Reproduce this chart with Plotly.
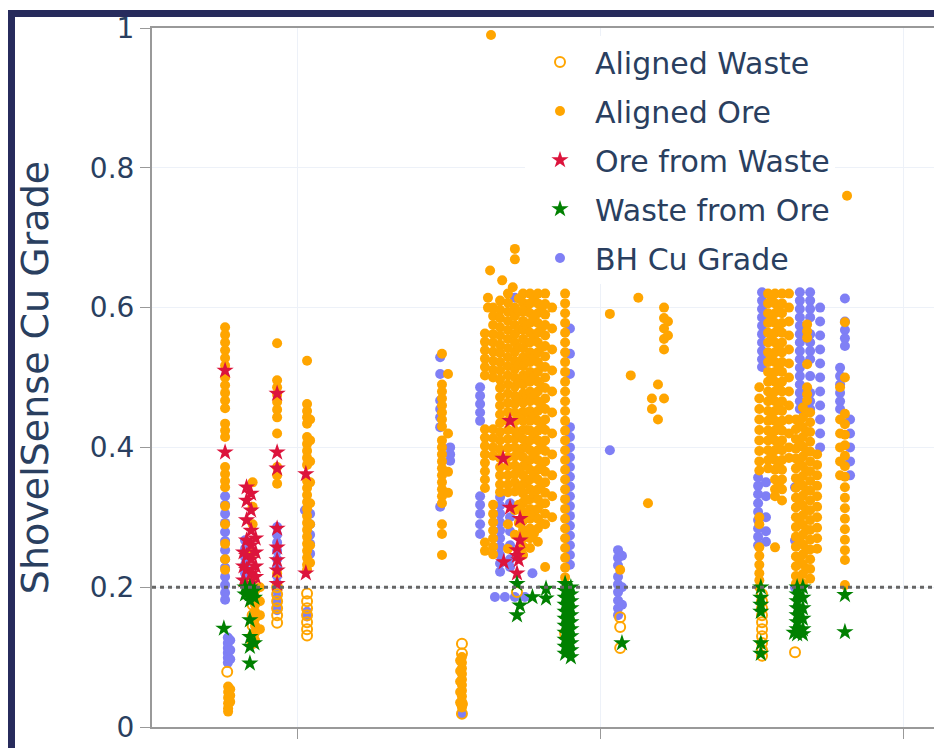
import plotly.graph_objects as go

# ---------------- data (x = sample position, y = Cu grade) ----------------
# each entry: (x position, [y values at that x])
BH_CU_GRADE = [
    (75.9, [0.33, 0.318, 0.305, 0.292, 0.279, 0.266, 0.253, 0.24, 0.228, 0.215, 0.203, 0.192, 0.182]),
    (76.8, [0.128, 0.12, 0.113, 0.106, 0.099, 0.092]),
    (77.6, [0.124, 0.11, 0.097]),
    (82.5, [0.267, 0.255, 0.243, 0.232, 0.22, 0.21]),
    (93.1, [0.286, 0.275, 0.264, 0.252, 0.24, 0.228, 0.216, 0.205, 0.195, 0.185, 0.176, 0.167]),
    (102.3, [0.31]),
    (104.0, [0.305, 0.29, 0.275, 0.262, 0.248]),
    (103.0, [0.165, 0.158]),
    (147.0, [0.529, 0.505, 0.467, 0.455, 0.443, 0.429, 0.315]),
    (150.3, [0.4, 0.39, 0.381]),
    (154.2, [0.019]),
    (160.2, [0.486, 0.474, 0.462, 0.45, 0.438, 0.33, 0.318, 0.305, 0.29, 0.276]),
    (166.8, [0.329, 0.317, 0.305, 0.293, 0.281, 0.27, 0.258, 0.246, 0.234, 0.222]),
    (170.1, [0.32, 0.3, 0.28, 0.26, 0.24, 0.229]),
    (165.1, [0.186]), (168.4, [0.186]), (171.7, [0.186, 0.614]), (175.0, [0.186]), (177.5, [0.22]),
    (189.9, [0.57, 0.534, 0.505, 0.429, 0.415, 0.4, 0.386, 0.372, 0.358, 0.344, 0.33, 0.316,
             0.302, 0.288, 0.274, 0.26, 0.246, 0.232]),
    (203.1, [0.396]),
    (205.8, [0.253, 0.242, 0.231, 0.215, 0.204, 0.193, 0.181, 0.17, 0.16]),
    (207.1, [0.245, 0.2, 0.175]),
    (253.4, [0.622, 0.61, 0.598, 0.586, 0.574, 0.562, 0.55, 0.538, 0.526, 0.515]),
    (252.1, [0.357, 0.345, 0.333, 0.32, 0.308, 0.296, 0.284, 0.272, 0.26]),
    (254.7, [0.35, 0.33, 0.3, 0.28, 0.265]),
    (265.9, [0.622, 0.61, 0.598, 0.586, 0.574, 0.562, 0.55, 0.538, 0.526, 0.514, 0.502, 0.49,
             0.478, 0.466, 0.455]),
    (269.3, [0.622, 0.61, 0.598, 0.586, 0.562, 0.55, 0.538, 0.526, 0.502, 0.478, 0.466, 0.455]),
    (272.6, [0.6, 0.58, 0.56, 0.54, 0.52, 0.5, 0.48, 0.46, 0.44, 0.42, 0.4]),
    (264.3, [0.343, 0.267, 0.2]),
    (280.8, [0.613, 0.58, 0.568, 0.556, 0.545]),
    (279.2, [0.514, 0.502, 0.49, 0.478, 0.466, 0.455]),
    (282.5, [0.44, 0.42, 0.4, 0.38, 0.36]),
]

ALIGNED_WASTE = [
    (76.6, [0.079]),
    (85.0, [0.19, 0.175, 0.16, 0.145, 0.13, 0.12]),
    (93.1, [0.2, 0.19, 0.18, 0.17, 0.16, 0.149]),
    (103.0, [0.191, 0.18, 0.17, 0.16, 0.15, 0.14, 0.131]),
    (154.2, [0.119, 0.105, 0.033, 0.019]),
    (172.4, [0.193]),
    (188.3, [0.134]),
    (206.5, [0.157, 0.143, 0.113]),
    (253.4, [0.19, 0.18, 0.17, 0.16, 0.15, 0.14, 0.13, 0.12, 0.11, 0.102]),
    (264.3, [0.107]),
]

ALIGNED_ORE = [
    (75.9, [0.572, 0.561, 0.55, 0.539, 0.528, 0.517, 0.5, 0.489, 0.478, 0.467, 0.456, 0.434, 0.424,
            0.415, 0.372, 0.362, 0.352, 0.343, 0.316, 0.29, 0.262, 0.24, 0.225]),
    (76.9, [0.058, 0.05, 0.042, 0.034, 0.027, 0.022]),
    (77.6, [0.054, 0.045, 0.036]),
    (85.0, [0.35, 0.315, 0.29, 0.25, 0.21]),
    (85.8, [0.195, 0.185, 0.175, 0.165, 0.155, 0.145, 0.135, 0.124]),
    (87.4, [0.2, 0.18, 0.16, 0.14]),
    (93.1, [0.549, 0.496, 0.486, 0.475, 0.465, 0.454, 0.443, 0.42, 0.372, 0.36, 0.348, 0.22]),
    (103.0, [0.524, 0.462, 0.452, 0.443, 0.434, 0.415, 0.405, 0.395, 0.385, 0.375, 0.352, 0.342,
             0.332, 0.322, 0.312, 0.302, 0.292, 0.282, 0.272, 0.262, 0.252, 0.242, 0.232, 0.225]),
    (104.0, [0.44, 0.41, 0.38, 0.35, 0.32, 0.29, 0.26, 0.235]),
    (147.6, [0.534, 0.49, 0.48, 0.47, 0.46, 0.45, 0.44, 0.43, 0.41, 0.4, 0.39, 0.38, 0.37, 0.36,
             0.35, 0.34, 0.33, 0.32, 0.29, 0.276, 0.246]),
    (149.6, [0.505, 0.42, 0.365, 0.335]),
    (154.2, [0.1, 0.092, 0.084, 0.076, 0.068, 0.06, 0.052, 0.044, 0.036, 0.028]),
    (153.6, [0.095, 0.08, 0.065, 0.05, 0.035]),
    (163.8, [0.99]),
    (171.7, [0.684, 0.669]),
    (163.5, [0.653]),
    (167.5, [0.639]),
    (171.0, [0.629]),
    (162.8, [0.614, 0.6]),
    (161.8, [0.563, 0.551, 0.539, 0.527, 0.515, 0.503, 0.426, 0.414, 0.402, 0.39, 0.378, 0.366,
             0.354, 0.342, 0.264, 0.252]),
    (164.5, [0.6, 0.588, 0.575, 0.562, 0.55, 0.537, 0.524, 0.511, 0.5, 0.426, 0.413, 0.4, 0.388,
             0.318, 0.305, 0.293, 0.281, 0.27, 0.258, 0.247]),
    (166.8, [0.61, 0.597, 0.585, 0.572, 0.56, 0.547, 0.535, 0.522, 0.51, 0.497, 0.485, 0.472,
             0.46, 0.447, 0.435, 0.422, 0.41, 0.397, 0.385, 0.372, 0.36, 0.347, 0.336]),
    (169.4, [0.62, 0.607, 0.594, 0.581, 0.568, 0.555, 0.542, 0.529, 0.516, 0.503, 0.49, 0.477,
             0.464, 0.451, 0.438, 0.425, 0.412, 0.399, 0.386, 0.373, 0.36, 0.347, 0.336, 0.29, 0.255]),
    (171.7, [0.6, 0.588, 0.575, 0.562, 0.55, 0.537, 0.524, 0.512, 0.5, 0.487, 0.474, 0.462, 0.45,
             0.437, 0.424, 0.412, 0.4, 0.387, 0.374, 0.362, 0.35, 0.337, 0.31, 0.275]),
    (173.0, [0.613, 0.594, 0.569, 0.543, 0.518, 0.493, 0.468, 0.443, 0.418, 0.393, 0.368, 0.343,
             0.318, 0.292]),
    (174.4, [0.62, 0.607, 0.594, 0.581, 0.568, 0.555, 0.542, 0.529, 0.516, 0.503, 0.49, 0.477,
             0.464, 0.451, 0.438, 0.425, 0.412, 0.399, 0.386, 0.373, 0.36, 0.347, 0.334, 0.321,
             0.308, 0.295, 0.282, 0.27, 0.258, 0.246]),
    (175.6, [0.6, 0.575, 0.55, 0.525, 0.5, 0.475, 0.45, 0.425, 0.4, 0.375, 0.35, 0.325, 0.3, 0.276]),
    (176.7, [0.62, 0.606, 0.592, 0.578, 0.564, 0.55, 0.536, 0.522, 0.508, 0.494, 0.48, 0.466,
             0.452, 0.438, 0.424, 0.41, 0.396, 0.382, 0.368, 0.354, 0.34, 0.326, 0.312, 0.298,
             0.284, 0.27, 0.256]),
    (178.0, [0.613, 0.585, 0.557, 0.529, 0.501, 0.473, 0.445, 0.417, 0.389, 0.361, 0.333, 0.305,
             0.277]),
    (179.3, [0.62, 0.606, 0.592, 0.578, 0.564, 0.55, 0.536, 0.522, 0.508, 0.494, 0.48, 0.466,
             0.452, 0.438, 0.424, 0.41, 0.396, 0.382, 0.368, 0.354, 0.34, 0.326, 0.312, 0.298,
             0.284, 0.265]),
    (180.5, [0.598, 0.571, 0.543, 0.515, 0.487, 0.459, 0.431, 0.403, 0.375, 0.347, 0.319, 0.291]),
    (181.7, [0.62, 0.605, 0.59, 0.575, 0.56, 0.545, 0.53, 0.515, 0.5, 0.485, 0.47, 0.455, 0.44,
             0.425, 0.41, 0.395, 0.38, 0.365, 0.35, 0.335, 0.32, 0.305, 0.29, 0.229]),
    (184.0, [0.6, 0.57, 0.54, 0.51, 0.48, 0.45, 0.42, 0.39, 0.36, 0.33, 0.3]),
    (188.3, [0.62, 0.606, 0.592, 0.578, 0.564, 0.55, 0.536, 0.522, 0.508, 0.494, 0.48, 0.466,
             0.452, 0.438, 0.424, 0.41, 0.396, 0.382, 0.368, 0.354, 0.34, 0.326, 0.312, 0.298,
             0.284, 0.27, 0.256, 0.242, 0.228, 0.214]),
    (203.1, [0.591]),
    (212.5, [0.614]),
    (210.0, [0.503]),
    (215.7, [0.32]),
    (206.5, [0.225]),
    (217.0, [0.455, 0.47]),
    (219.0, [0.49, 0.44]),
    (221.0, [0.6, 0.585, 0.57, 0.555, 0.54, 0.47]),
    (222.3, [0.58, 0.56]),
    (252.5, [0.486, 0.47, 0.455, 0.44, 0.425, 0.41, 0.395, 0.38, 0.367, 0.3, 0.29, 0.257, 0.245,
             0.232, 0.22, 0.21, 0.2]),
    (255.4, [0.62, 0.606, 0.592, 0.578, 0.564, 0.55, 0.536, 0.522, 0.508, 0.494, 0.48, 0.466,
             0.452, 0.438, 0.424, 0.41, 0.396, 0.382, 0.37]),
    (256.6, [0.613, 0.585, 0.557, 0.529, 0.501, 0.473, 0.445, 0.417, 0.389]),
    (257.7, [0.62, 0.606, 0.592, 0.578, 0.564, 0.55, 0.536, 0.522, 0.508, 0.494, 0.48, 0.466,
             0.452, 0.438, 0.424, 0.41, 0.396, 0.382, 0.368, 0.354, 0.34, 0.33, 0.257]),
    (258.9, [0.599, 0.571, 0.543, 0.515, 0.487, 0.459, 0.431, 0.403, 0.375, 0.347]),
    (260.0, [0.62, 0.606, 0.592, 0.578, 0.564, 0.55, 0.536, 0.522, 0.508, 0.494, 0.48, 0.466,
             0.452, 0.438, 0.424, 0.41, 0.396, 0.382, 0.368, 0.354, 0.34, 0.324]),
    (262.3, [0.62, 0.6, 0.58, 0.56, 0.54, 0.52, 0.5, 0.48, 0.46, 0.44, 0.42, 0.4, 0.385]),
    (264.6, [0.44, 0.426, 0.412, 0.398, 0.384, 0.37, 0.356, 0.342, 0.328, 0.314, 0.3, 0.286,
             0.272, 0.258, 0.244, 0.23, 0.216, 0.205]),
    (265.8, [0.435, 0.407, 0.379, 0.351, 0.323, 0.295, 0.267, 0.239, 0.211]),
    (266.9, [0.457, 0.443, 0.429, 0.415, 0.401, 0.387, 0.373, 0.359, 0.345, 0.331, 0.317, 0.303,
             0.289, 0.275, 0.261, 0.247, 0.233, 0.219, 0.205]),
    (268.1, [0.45, 0.422, 0.394, 0.366, 0.338, 0.31, 0.282, 0.254, 0.226]),
    (269.3, [0.45, 0.436, 0.422, 0.408, 0.394, 0.38, 0.366, 0.352, 0.338, 0.324, 0.31, 0.296,
             0.282, 0.268, 0.254, 0.24, 0.226, 0.212]),
    (271.6, [0.39, 0.375, 0.36, 0.345, 0.33, 0.315, 0.3, 0.285, 0.27, 0.255]),
    (268.3, [0.576, 0.566, 0.557, 0.519, 0.486, 0.476, 0.467]),
    (280.8, [0.579, 0.5, 0.448, 0.433, 0.418, 0.403, 0.388, 0.373, 0.358, 0.343, 0.328, 0.313,
             0.298, 0.283, 0.268, 0.253, 0.239, 0.203]),
    (279.2, [0.486, 0.44, 0.42, 0.4, 0.38, 0.36]),
    (281.5, [0.76]),
]

ORE_FROM_WASTE = [
    (75.9, [0.51, 0.393]),
    (83.0, [0.343, 0.324, 0.296, 0.267, 0.245, 0.225]),
    (84.5, [0.334, 0.31, 0.281, 0.26, 0.24, 0.22, 0.205]),
    (86.0, [0.27, 0.25, 0.23, 0.215]),
    (82.0, [0.25, 0.23, 0.21]),
    (93.1, [0.477, 0.393, 0.37, 0.284, 0.257, 0.239, 0.224, 0.205]),
    (102.6, [0.362, 0.22]),
    (170.1, [0.438, 0.314]),
    (167.8, [0.384]),
    (173.4, [0.298, 0.267]),
    (172.4, [0.253, 0.245, 0.22]),
    (173.0, [0.239]),
    (168.0, [0.236]),
]

WASTE_FROM_ORE = [
    (75.5, [0.141]),
    (82.5, [0.2, 0.19]),
    (84.1, [0.2, 0.19, 0.181, 0.153, 0.129, 0.115, 0.091]),
    (85.6, [0.195, 0.185, 0.12]),
    (172.4, [0.205, 0.16]),
    (173.4, [0.174]),
    (177.5, [0.186]),
    (182.0, [0.198, 0.184]),
    (188.3, [0.205, 0.195, 0.185, 0.175, 0.165, 0.155, 0.145, 0.135, 0.125, 0.115, 0.105]),
    (190.2, [0.2, 0.19, 0.18, 0.17, 0.16, 0.15, 0.14, 0.13, 0.12, 0.11, 0.1]),
    (207.1, [0.12]),
    (253.0, [0.2, 0.185, 0.175, 0.165, 0.12, 0.105]),
    (265.0, [0.2, 0.19, 0.18, 0.17, 0.16, 0.15, 0.14, 0.133]),
    (266.9, [0.2, 0.185, 0.17, 0.155, 0.14, 0.133]),
    (264.0, [0.135]),
    (280.8, [0.189, 0.136]),
]

THRESHOLD = 0.2
Y_TICKS = [0, 0.2, 0.4, 0.6, 0.8, 1]
Y_TICK_LABELS = ["0", "0.2", "0.4", "0.6", "0.8", "1"]
X_TICKS = [100, 200, 300]
X_RANGE = [51.74, 311.9]


def flatten(stripes):
    xs, ys = [], []
    for x, yl in stripes:
        for y in yl:
            xs.append(x)
            ys.append(y)
    return xs, ys


# ---------------- layout geometry (page has an 8px body margin) ----------------
OFF = 8
W, H = 934, 740
ML, MR, MT, MB = 144, 3, 20, 21
PW, PH = W - ML - MR, H - MT - MB


def sx(px):
    """screen x pixel -> paper fraction"""
    return (px - OFF - ML) / PW


def sy(py):
    """screen y pixel -> paper fraction"""
    return (H - MB - (py - OFF)) / PH


TEXT = "#2a3f5f"
FONT = "DejaVu Sans, Verdana, sans-serif"
ORANGE = "#FFA500"

fig = go.Figure()

traces = [
    ("BH Cu Grade", BH_CU_GRADE, dict(symbol="circle", size=10, color="#7f7ff5"), 5),
    ("Aligned Waste", ALIGNED_WASTE,
     dict(symbol="circle-open", size=10, color=ORANGE, line=dict(width=2, color=ORANGE)), 1),
    ("Aligned Ore", ALIGNED_ORE, dict(symbol="circle", size=10, color=ORANGE), 2),
    ("Ore from Waste", ORE_FROM_WASTE, dict(symbol="star", size=13, color="#dc143c"), 3),
    ("Waste from Ore", WASTE_FROM_ORE, dict(symbol="star", size=13, color="#008000"), 4),
]
for name, stripes, marker, rank in traces:
    xs, ys = flatten(stripes)
    fig.add_trace(go.Scatter(x=xs, y=ys, mode="markers", name=name, marker=marker,
                             legendrank=rank, legendgroup=name))

fig.add_hline(y=THRESHOLD, line=dict(color="#666666", width=3, dash="4px,4px"))

frame = "#272b5c"
fig.add_shape(type="rect", xref="paper", yref="paper", x0=sx(8), x1=sx(15),
              y0=sy(770), y1=sy(10), fillcolor=frame, line_width=0, layer="above")
fig.add_shape(type="rect", xref="paper", yref="paper", x0=sx(8), x1=sx(960),
              y0=sy(17), y1=sy(10), fillcolor=frame, line_width=0, layer="above")

fig.update_layout(
    width=W, height=H,
    margin=dict(l=ML, r=MR, t=MT, b=MB, autoexpand=False),
    paper_bgcolor="white", plot_bgcolor="white",
    font=dict(family=FONT, color=TEXT),
    showlegend=True,
    legend=dict(x=sx(525), y=sy(36), xanchor="left", yanchor="top",
                bgcolor="rgba(255,255,255,0.97)", font=dict(size=30, family=FONT, color=TEXT),
                tracegroupgap=7, itemsizing="trace", itemwidth=60),
    xaxis=dict(range=X_RANGE, tickvals=X_TICKS, showticklabels=False, ticks="outside",
               ticklen=10, tickcolor="#999999", showgrid=True, gridcolor="#edf1f8",
               showline=True, linecolor="#999999", linewidth=2, mirror=True, zeroline=False),
    yaxis=dict(range=[0, 1], tickvals=Y_TICKS, ticktext=Y_TICK_LABELS, ticks="outside",
               ticklen=10, tickcolor="#999999", tickfont=dict(size=28, family=FONT, color=TEXT),
               showgrid=True, gridcolor="#edf1f8", showline=True, linecolor="#999999",
               linewidth=2, mirror=True, zeroline=False,
               title=dict(text="ShovelSense Cu Grade", font=dict(size=38, family=FONT, color=TEXT),
                          standoff=30)),
)

fig.write_html("out.html")
